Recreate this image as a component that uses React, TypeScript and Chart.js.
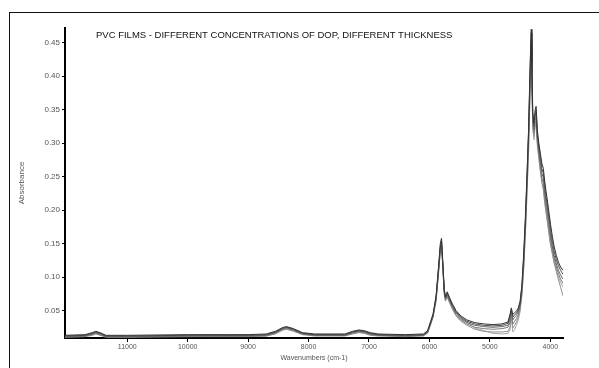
import { useEffect, useRef } from 'react';
import { Chart, registerables } from 'chart.js';

Chart.register(...registerables);

const chartTitle = 'PVC FILMS - DIFFERENT CONCENTRATIONS OF DOP, DIFFERENT THICKNESS';
const xAxisTitle = 'Wavenumbers (cm-1)';
const yAxisTitle = 'Absorbance';

const xTicks = [11000, 10000, 9000, 8000, 7000, 6000, 5000, 4000];
const yTicks = [0.05, 0.1, 0.15, 0.2, 0.25, 0.3, 0.35, 0.4, 0.45];

const wavenumbers = [
  12030, 11700, 11580, 11520, 11450, 11350, 11000, 10000, 9000, 8700,
  8550, 8420, 8360, 8250, 8100, 7900, 7400, 7270, 7170, 7080,
  6980, 6850, 6400, 6100, 6030, 5980, 5940, 5890, 5850, 5820,
  5800, 5780, 5755, 5735, 5705, 5670, 5620, 5560, 5480, 5380,
  5250, 5100, 4950, 4800, 4700, 4665, 4645, 4620, 4590, 4560,
  4530, 4500, 4470, 4440, 4410, 4385, 4360, 4340, 4325, 4315,
  4305, 4290, 4270, 4250, 4235, 4215, 4190, 4165, 4140, 4115,
  4095, 4070, 4045, 4020, 3995, 3965, 3935, 3900, 3865, 3830,
  3790,
];

const film1 = [
  0.013, 0.014, 0.017, 0.019, 0.017, 0.013, 0.013, 0.014, 0.014, 0.015,
  0.019, 0.025, 0.026, 0.023, 0.017, 0.015, 0.015, 0.019, 0.021, 0.020,
  0.017, 0.015, 0.014, 0.015, 0.020, 0.034, 0.045, 0.072, 0.115, 0.150,
  0.158, 0.125, 0.082, 0.071, 0.078, 0.070, 0.060, 0.050, 0.042, 0.036,
  0.032, 0.030, 0.029, 0.030, 0.033, 0.045, 0.054, 0.044, 0.047, 0.049,
  0.054, 0.064, 0.088, 0.135, 0.195, 0.255, 0.320, 0.395, 0.445, 0.470,
  0.420, 0.345, 0.330, 0.350, 0.355, 0.320, 0.300, 0.285, 0.270, 0.262,
  0.245, 0.228, 0.212, 0.195, 0.178, 0.160, 0.145, 0.132, 0.122, 0.115,
  0.110,
];

const film2 = [
  0.012, 0.013, 0.016, 0.018, 0.016, 0.012, 0.012, 0.013, 0.013, 0.014,
  0.018, 0.024, 0.025, 0.022, 0.016, 0.014, 0.014, 0.018, 0.020, 0.019,
  0.016, 0.014, 0.013, 0.014, 0.019, 0.032, 0.043, 0.070, 0.112, 0.146,
  0.155, 0.122, 0.080, 0.069, 0.076, 0.068, 0.058, 0.048, 0.040, 0.034,
  0.030, 0.028, 0.027, 0.028, 0.031, 0.042, 0.051, 0.040, 0.044, 0.046,
  0.051, 0.061, 0.085, 0.130, 0.190, 0.250, 0.315, 0.390, 0.440, 0.465,
  0.410, 0.340, 0.325, 0.345, 0.350, 0.315, 0.295, 0.280, 0.262, 0.255,
  0.238, 0.220, 0.205, 0.188, 0.170, 0.152, 0.138, 0.126, 0.117, 0.110,
  0.104,
];

const film3 = [
  0.011, 0.012, 0.015, 0.017, 0.015, 0.011, 0.011, 0.012, 0.012, 0.013,
  0.017, 0.023, 0.024, 0.021, 0.015, 0.013, 0.013, 0.017, 0.019, 0.018,
  0.015, 0.013, 0.012, 0.013, 0.018, 0.031, 0.042, 0.068, 0.110, 0.143,
  0.152, 0.120, 0.078, 0.068, 0.074, 0.066, 0.056, 0.046, 0.038, 0.032,
  0.028, 0.026, 0.025, 0.026, 0.028, 0.038, 0.049, 0.036, 0.040, 0.043,
  0.048, 0.058, 0.082, 0.125, 0.185, 0.245, 0.310, 0.380, 0.430, 0.455,
  0.400, 0.335, 0.320, 0.340, 0.345, 0.310, 0.290, 0.272, 0.255, 0.248,
  0.230, 0.212, 0.198, 0.180, 0.162, 0.145, 0.132, 0.120, 0.110, 0.103,
  0.097,
];

const film4 = [
  0.011, 0.012, 0.014, 0.016, 0.014, 0.011, 0.011, 0.012, 0.012, 0.012,
  0.016, 0.022, 0.023, 0.020, 0.015, 0.013, 0.013, 0.016, 0.018, 0.017,
  0.014, 0.013, 0.012, 0.013, 0.017, 0.030, 0.041, 0.066, 0.107, 0.140,
  0.150, 0.118, 0.076, 0.066, 0.072, 0.064, 0.054, 0.044, 0.036, 0.030,
  0.025, 0.023, 0.022, 0.023, 0.025, 0.033, 0.046, 0.030, 0.034, 0.038,
  0.044, 0.055, 0.078, 0.120, 0.178, 0.238, 0.300, 0.370, 0.420, 0.445,
  0.395, 0.330, 0.315, 0.335, 0.338, 0.305, 0.285, 0.265, 0.248, 0.240,
  0.222, 0.205, 0.190, 0.172, 0.155, 0.140, 0.127, 0.115, 0.105, 0.097,
  0.090,
];

const film5 = [
  0.010, 0.011, 0.013, 0.015, 0.013, 0.010, 0.010, 0.011, 0.011, 0.012,
  0.015, 0.021, 0.022, 0.019, 0.014, 0.012, 0.012, 0.015, 0.017, 0.016,
  0.013, 0.012, 0.011, 0.012, 0.016, 0.029, 0.040, 0.064, 0.104, 0.138,
  0.148, 0.116, 0.074, 0.064, 0.070, 0.062, 0.052, 0.042, 0.034, 0.028,
  0.022, 0.019, 0.018, 0.018, 0.019, 0.026, 0.043, 0.024, 0.028, 0.033,
  0.040, 0.052, 0.075, 0.115, 0.172, 0.230, 0.290, 0.360, 0.410, 0.435,
  0.390, 0.325, 0.310, 0.330, 0.332, 0.300, 0.280, 0.260, 0.242, 0.232,
  0.215, 0.198, 0.182, 0.165, 0.148, 0.134, 0.120, 0.108, 0.096, 0.085,
  0.072,
];

const film6 = [
  0.012, 0.012, 0.015, 0.018, 0.016, 0.012, 0.011, 0.012, 0.013, 0.013,
  0.017, 0.023, 0.025, 0.022, 0.016, 0.014, 0.013, 0.017, 0.020, 0.018,
  0.015, 0.014, 0.013, 0.013, 0.018, 0.031, 0.042, 0.069, 0.110, 0.144,
  0.154, 0.121, 0.079, 0.068, 0.075, 0.067, 0.057, 0.047, 0.039, 0.033,
  0.024, 0.020, 0.016, 0.015, 0.016, 0.022, 0.040, 0.018, 0.022, 0.028,
  0.036, 0.048, 0.072, 0.112, 0.168, 0.225, 0.285, 0.355, 0.405, 0.430,
  0.385, 0.320, 0.305, 0.325, 0.328, 0.296, 0.276, 0.258, 0.240, 0.230,
  0.212, 0.195, 0.180, 0.162, 0.148, 0.135, 0.122, 0.110, 0.100, 0.092,
  0.085,
];

const films = [film1, film2, film3, film4, film5, film6];
const filmColors = ['#333333', '#4f4f4f', '#666666', '#7a7a7a', '#909090', '#a6a6a6'];

const FONT = '"Liberation Sans", Arial, sans-serif';

export default function App() {
  const ref = useRef<HTMLCanvasElement>(null);

  useEffect(() => {
    if (!ref.current) return;
    Chart.defaults.font.family = FONT;

    const titlePlugin = {
      id: 'insideTitle',
      afterDraw(chart: any) {
        const ctx = chart.ctx;
        ctx.save();
        ctx.font = `9.5px ${FONT}`;
        ctx.fillStyle = '#111';
        ctx.textBaseline = 'middle';
        ctx.textAlign = 'left';
        ctx.fillText(chartTitle, chart.chartArea.left + 31, 35);
        ctx.restore();
      },
    };

    const chart = new Chart(ref.current, {
      type: 'line',
      data: {
        datasets: films.map((film, i) => ({
          label: `Film ${i + 1}`,
          data: wavenumbers.map((x, j) => ({ x, y: film[j] })),
          borderColor: filmColors[i],
          borderWidth: 1,
          pointRadius: 0,
          tension: 0,
          fill: false,
        })),
      },
      options: {
        animation: false,
        responsive: false,
        layout: { padding: { left: 0, top: 28, right: 36, bottom: 0 } },
        plugins: {
          legend: { display: false },
          tooltip: { enabled: false },
          title: { display: false },
        },
        scales: {
          x: {
            type: 'linear',
            reverse: true,
            min: 3790,
            max: 12030,
            afterFit: (s: any) => {
              s.height = 30;
            },
            afterBuildTicks: (s: any) => {
              s.ticks = xTicks.map((v) => ({ value: v }));
            },
            border: { display: true, color: '#000', width: 2 },
            grid: {
              display: true,
              drawOnChartArea: false,
              drawTicks: true,
              tickLength: 4,
              color: '#000',
            },
            ticks: {
              padding: 1,
              color: '#555',
              font: { size: 7 },
              maxRotation: 0,
              autoSkip: false,
              callback: (v: any) => String(v),
            },
            title: {
              display: true,
              text: xAxisTitle,
              color: '#555',
              font: { size: 7 },
              padding: { top: 0, bottom: 6 },
            },
          },
          y: {
            type: 'linear',
            min: 0.009,
            max: 0.472,
            afterFit: (s: any) => {
              s.width = 65;
            },
            afterBuildTicks: (s: any) => {
              s.ticks = yTicks.map((v) => ({ value: v }));
            },
            border: { display: true, color: '#000', width: 2 },
            grid: {
              display: true,
              drawOnChartArea: false,
              drawTicks: true,
              tickLength: 3,
              color: '#000',
            },
            ticks: {
              padding: 2,
              color: '#555',
              font: { size: 8 },
              autoSkip: false,
              callback: (v: any) => Number(v).toFixed(2),
            },
            title: {
              display: true,
              text: yAxisTitle,
              color: '#555',
              font: { size: 8 },
              padding: { top: 17, bottom: 0 },
            },
          },
        },
      },
      plugins: [titlePlugin],
    });

    return () => chart.destroy();
  }, []);

  return (
    <div style={{ position: 'absolute', left: 0, top: 0, width: 599, height: 368, background: '#fff', overflow: 'hidden' }}>
      <div
        style={{
          position: 'absolute',
          left: 9,
          top: 12,
          right: -5,
          bottom: -5,
          borderLeft: '1px solid #111',
          borderTop: '1px solid #111',
        }}
      />
      <canvas ref={ref} width={599} height={368} style={{ position: 'absolute', left: 0, top: 0 }} />
    </div>
  );
}
